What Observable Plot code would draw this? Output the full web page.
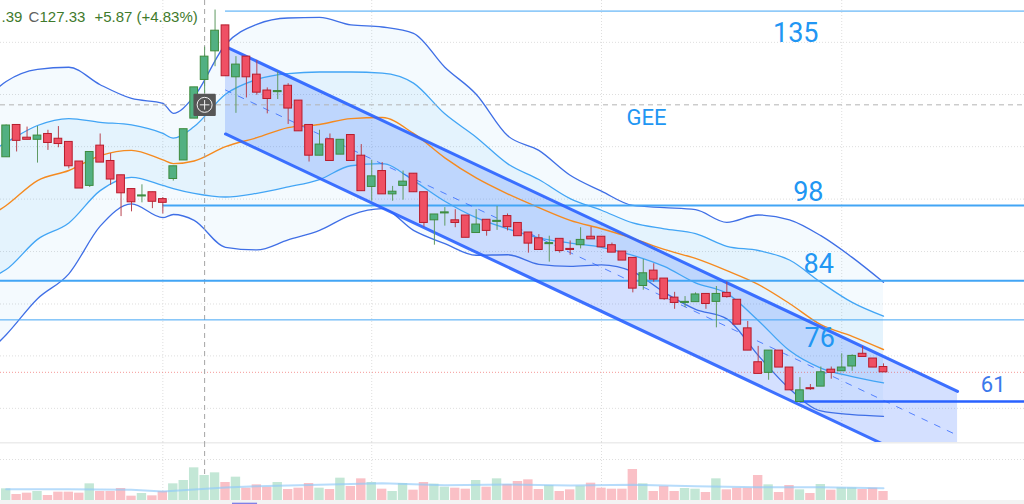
<!DOCTYPE html>
<html><head><meta charset="utf-8">
<script src="https://cdn.jsdelivr.net/npm/d3@7"></script>
<script src="https://cdn.jsdelivr.net/npm/@observablehq/plot@0.6"></script>
<style>html,body{margin:0;padding:0;background:#fff;overflow:hidden}svg{display:block}</style>
</head><body><div id="c"></div>
<script>
const opens=[107.3,113.4,111.0,110.6,111.7,110.8,110.2,106.5,101.9,109.5,106.6,103.9,101.3,99.9,100.7,99.4,103.2,106.7,114.6,121.9,127.3,132.2,122.4,126.3,122.9,119.9,119.6,120.8,118.0,113.4,107.6,110.7,107.8,111.5,107.6,101.7,104.7,100.3,101.9,104.2,100.7,95.4,96.7,95.4,96.3,93.0,95.5,95.1,96.2,94.9,93.1,92.0,90.9,91.9,90.0,90.7,92.3,92.3,90.7,89.5,88.3,83.0,85.9,84.4,80.8,79.8,79.95,81.5,80.0,81.7,80.4,75.0,68.6,66.6,70.8,67.6,61.1,63.7,64.0,67.2,66.9,67.8,70.2,69.3,67.7];
const closes=[113.3,110.4,110.6,111.4,110.0,109.8,105.6,101.4,108.3,106.3,103.1,100.5,98.8,100.1,98.9,98.7,105.6,112.6,120.5,126.3,131.2,122.6,124.8,122.4,119.5,118.3,119.8,116.5,112.2,107.6,109.7,106.6,110.6,106.6,100.9,103.7,100.3,100.8,102.7,100.7,94.9,96.5,96.9,94.9,92.1,94.6,93.4,95.3,94.1,92.4,91.0,89.8,91.1,89.6,89.8,91.7,91.8,90.3,89.3,87.8,82.5,85.4,84.2,80.5,79.8,80.0,81.4,79.6,81.5,80.9,75.7,70.8,66.4,70.8,67.6,63.3,63.3,63.5,66.7,66.6,67.6,69.8,69.6,67.6,66.7];
const highs=[113.4,113.4,113.0,113.1,112.4,113.1,110.2,106.5,108.3,111.7,108.0,103.9,101.3,102.1,100.7,99.7,105.6,112.6,120.5,128.1,135.1,132.2,126.3,126.3,125.6,120.4,123.4,121.2,118.0,113.4,112.4,111.7,110.6,111.5,109.7,106.7,106.3,101.8,104.7,104.2,100.7,96.5,97.8,97.4,96.3,97.4,95.5,98.0,96.6,94.9,93.1,92.7,92.4,91.9,91.5,94.0,94.1,92.3,91.1,89.5,88.3,88.0,87.2,84.4,81.8,81.0,81.7,81.5,82.9,83.7,80.4,76.3,71.6,70.8,70.8,67.6,65.7,64.4,67.7,67.7,70.2,70.0,71.6,69.3,68.3];
const lows=[107.3,108.3,110.6,106.2,108.6,109.1,105.1,101.4,101.6,106.3,102.0,96.1,97.0,98.7,97.6,96.6,102.8,106.7,114.6,119.3,124.4,122.6,115.6,118.5,119.0,115.5,118.2,113.5,112.2,106.4,107.6,106.6,107.8,106.6,100.9,99.0,100.3,99.0,99.2,100.7,94.1,90.7,94.3,94.0,92.1,93.0,92.4,93.5,93.4,92.4,89.2,89.8,87.5,89.2,88.8,90.0,91.8,90.3,89.3,87.8,81.7,82.2,83.7,80.3,78.6,78.9,79.95,78.6,75.1,80.7,75.7,70.8,66.4,65.2,67.6,63.3,61.1,63.3,64.0,65.4,66.9,66.9,69.6,67.6,66.7];
const volumes=[3.5,1.8,2.2,2.7,1.5,2.5,2.5,2.2,5.0,2.7,2.7,3.6,1.3,2.1,1.4,2.7,5.0,6.0,9.8,7.5,8.3,5.4,7.0,3.7,4.7,4.0,5.4,3.3,3.7,5.1,3.7,3.3,6.7,4.2,6.5,5.4,3.4,2.7,5.1,3.1,5.4,4.9,4.0,3.7,3.4,6.0,4.0,6.5,4.8,5.7,6.2,3.3,4.5,2.7,3.2,4.3,5.2,3.7,3.4,3.4,9.3,5.0,2.7,4.2,2.7,3.6,3.4,2.4,6.5,3.2,3.7,3.7,7.5,4.7,2.4,4.5,3.2,2.1,4.8,3.1,3.8,3.8,3.3,3.7,2.7];

const bandBars=[-1,0,3,6,9,12,15,16,18,21,24,27,30,33,36,39,42,45,48,51,54,57,60,63,66,69,72,75,78,81,84];
const bandOuterUpper=[120.1,121.6,123.9,124.3,121.0,118.4,117.5,115.6,118.8,128.6,132.4,133.6,133.7,132.3,131.9,130.7,124.3,119.2,111.4,108.6,103.9,100.9,98.2,97.8,97.4,95.0,96.4,95.5,92.5,88.4,83.7];
const bandInnerUpper=[109.0,110.1,113.3,114.6,113.9,113.4,111.8,110.9,113.1,119.2,122.0,123.1,123.4,123.4,123.2,121.3,115.5,111.1,106.1,103.1,99.5,97.3,94.9,93.8,92.9,90.5,89.7,87.9,83.7,79.9,77.3];
const bandMiddle=[96.9,98.2,102.9,104.8,107.6,108.6,106.8,106.1,106.6,109.3,111.0,112.9,113.5,114.6,114.8,111.8,107.2,103.4,100.4,97.8,95.4,93.8,92.0,89.9,88.2,85.9,83.3,79.7,75.7,73.5,71.0];
const bandInnerLower=[85.0,86.1,91.8,94.9,101.0,103.5,102.0,101.4,100.5,99.8,100.5,101.7,103.1,105.7,106.1,102.9,99.0,95.9,93.8,92.1,91.1,90.3,88.8,86.7,83.6,81.6,76.5,70.8,67.5,65.9,64.7];
const bandOuterLower=[71.8,73.8,80.6,85.3,94.3,98.5,95.9,96.5,95.4,90.3,89.8,91.7,93.5,96.4,97.6,93.5,91.0,88.8,88.9,87.1,86.7,87.0,85.7,81.8,78.6,76.8,69.9,63.6,59.4,58.7,58.4];

const volumeMABars=[0,6,12,15,18,21,24,30,36,42,48,54,60,66,72,78,84];
const volumeMA=[3.4,3.4,3.2,2.7,3.3,3.9,4.3,4.7,5.2,4.6,4.8,4.5,4.7,4.3,4.0,4.0,3.7];

const channelBars=[21,91.09];
const channelUpper=[128.2,63.1];
const channelMiddle=[120.0,54.8];
const channelLower=[111.7,46.5];

const levelValues=[134.9,98.2,84.0,76.6,61.2];
const levelStart=[21,15,-0.6,-0.6,76];
const levelWidth=[1,2,2,1,2.5];
const levelColor=["#42a5f5","#42a5f5","#42a5f5","#42a5f5","#2962ff"];

const labelText=["135","GEE","98","84","76","61"];
const labelBar=[75.6,61.3,76.8,77.8,77.9,94.5];
const labelPrice=[130.7,114.8,100.6,87,73.2,64.4];
const labelSize=[27,22,27,27,27,22];
const labelColor=["#2196f3","#2196f3","#2196f3","#2196f3","#2196f3","#3a78ec"];

const gridPrices=[129,119.15,109.3,99.4,89.5,79.6,69.8,59.9];
const gridBars=[15,35,57,80];
const crossBar=19, crossPrice=117.2;
const tagBars=[21.67,24.07];

const bars=opens.map((o,i)=>({i,o,c:closes[i],h:highs[i],l:lows[i],v:volumes[i],up:closes[i]>o}));
const bands=bandBars.map((b,k)=>({b,ou:bandOuterUpper[k],iu:bandInnerUpper[k],m:bandMiddle[k],il:bandInnerLower[k],ol:bandOuterLower[k]}));
const channel=channelBars.map((b,k)=>({b,u:channelUpper[k],m:channelMiddle[k],l:channelLower[k]}));
const levels=levelValues.map((p,k)=>({p,s:levelStart[k],w:levelWidth[k],col:levelColor[k]}));
const labels=labelText.map((t,k)=>({t,b:labelBar[k],p:labelPrice[k],sz:labelSize[k],col:labelColor[k]}));
const X={type:"linear",domain:[-0.543,97.5],range:[0,1024]};
const curve="monotone-x";
const hw=0.37, vw=0.45;
const RED="#ef5064",REDS="#b71c2c",GRN="#52b082",GRNS="#3d8b3d";
const font="Roboto, 'Open Sans', sans-serif";

const header=[
 {t:".39",dx:1,col:"#3f7a2c"},{t:"C",dx:28,col:"#5f5f5f"},{t:"127.33",dx:39,col:"#3f7a2c"},
 {t:"+5.87",dx:94,col:"#3f7a2c"},{t:"(+4.83%)",dx:136,col:"#3f7a2c"}];

const main=Plot.plot({width:1024,height:442,margin:0,x:{...X,axis:null},
 y:{type:"linear",domain:[136.9,53.45],range:[0,442],axis:null},
 style:{background:"#fff"},
 marks:[
  Plot.ruleY(gridPrices,{stroke:"#dedede",strokeWidth:1,strokeDasharray:"1 2"}),
  Plot.ruleX(gridBars,{stroke:"#dedede",strokeWidth:1,strokeDasharray:"1 2"}),
  Plot.areaY(bands,{x:"b",y1:"ol",y2:"ou",fill:"#2196f3",fillOpacity:0.05,curve}),
  Plot.areaY(bands,{x:"b",y1:"il",y2:"iu",fill:"#2196f3",fillOpacity:0.07,curve}),
  Plot.areaY(channel,{x:"b",y1:"l",y2:"u",fill:"#2962ff",fillOpacity:0.2,clip:true}),
  Plot.line(bands,{x:"b",y:"ou",stroke:"#3f6fe6",strokeWidth:1.3,curve}),
  Plot.line(bands,{x:"b",y:"ol",stroke:"#3f6fe6",strokeWidth:1.3,curve}),
  Plot.line(bands,{x:"b",y:"iu",stroke:"#42a5f5",strokeWidth:1.3,curve}),
  Plot.line(bands,{x:"b",y:"il",stroke:"#42a5f5",strokeWidth:1.3,curve}),
  Plot.line(bands,{x:"b",y:"m",stroke:"#f58a1f",strokeWidth:1.4,curve}),
  Plot.ruleY([closes[84]],{stroke:"#ef5350",strokeOpacity:.6,strokeWidth:1,strokeDasharray:"1 2"}),
  Plot.ruleX([crossBar],{stroke:"#a5a5a5",strokeWidth:1,strokeDasharray:"5 4"}),
  Plot.ruleY([crossPrice],{stroke:"#b4b4b4",strokeWidth:1,strokeDasharray:"5 4"}),
  ...levels.map(l=>Plot.ruleY([l],{y:"p",x1:"s",x2:97.5,stroke:"col",strokeWidth:l.w})),
  Plot.line(channel,{x:"b",y:"m",stroke:"#2962ff",strokeOpacity:.75,strokeWidth:1,strokeDasharray:"6 8",clip:true}),
  Plot.line(channel,{x:"b",y:"u",stroke:"#2962ff",strokeWidth:3,strokeOpacity:.9}),
  Plot.line(channel,{x:"b",y:"l",stroke:"#2962ff",strokeWidth:3,strokeOpacity:.9,clip:true}),
  Plot.ruleX(bars,{x:"i",y1:"l",y2:"h",stroke:d=>d.up?"#5f9a62":"#b8434f",strokeWidth:1}),
  Plot.rect(bars,{x1:d=>d.i-hw,x2:d=>d.i+hw,y1:"o",y2:"c",fill:d=>d.up?GRN:RED,stroke:d=>d.up?GRNS:REDS,strokeWidth:1}),
  ...labels.map(l=>Plot.text([l],{x:"b",y:"p",text:"t",fill:"col",fontSize:l.sz,fontFamily:font})),
  Plot.dot([0],{x:()=>crossBar,y:()=>crossPrice,symbol:"square",r:11.5,fill:"#565656",stroke:"#565656",strokeWidth:2,strokeLinejoin:"round"}),
  Plot.dot([0],{x:()=>crossBar,y:()=>crossPrice,r:7.5,fill:"none",stroke:"#f2f2f2",strokeWidth:1}),
  Plot.dot([0],{x:()=>crossBar,y:()=>crossPrice,symbol:"plus",r:3.2,stroke:"#f2f2f2",strokeWidth:1}),
  ...header.map(h=>Plot.text([h.t],{frameAnchor:"top-left",dx:h.dx,dy:11,text:d=>d,textAnchor:"start",lineAnchor:"top",fill:h.col,fontSize:15,fontFamily:"'Liberation Sans', Arial, sans-serif"}))
 ]});

const vol=Plot.plot({width:1024,height:62,margin:0,x:{...X,axis:null},
 y:{type:"linear",domain:[17.4,-1.2],range:[0,62],axis:null},
 style:{background:"#fff"},
 marks:[
  Plot.ruleY([17.4],{stroke:"#ececec",strokeWidth:2}),
  Plot.ruleY([12.3],{stroke:"#dedede",strokeDasharray:"1 2"}),
  Plot.ruleX(gridBars,{stroke:"#dedede",strokeDasharray:"1 2"}),
  Plot.ruleX([crossBar],{stroke:"#a5a5a5",strokeDasharray:"5 4"}),
  Plot.rect(bars,{x1:d=>d.i-vw,x2:d=>d.i+vw,y1:0,y2:"v",fill:d=>d.up?"#c3e7d6":"#fac0c6"}),
  Plot.line(volumeMABars.map((b,k)=>({b,m:volumeMA[k]})),{x:"b",y:"m",stroke:"#90caf9",strokeWidth:2,strokeOpacity:.65}),
  Plot.rect([0],{x1:-0.6,x2:97.5,y1:-1.2,y2:0,fill:"#f3f3f3"}),
  Plot.rect([0],{x1:tagBars[0],x2:tagBars[1],y1:-1.2,y2:-0.8,fill:"#8080e6"})
 ]});
document.getElementById("c").append(main,vol);
</script></body></html>
